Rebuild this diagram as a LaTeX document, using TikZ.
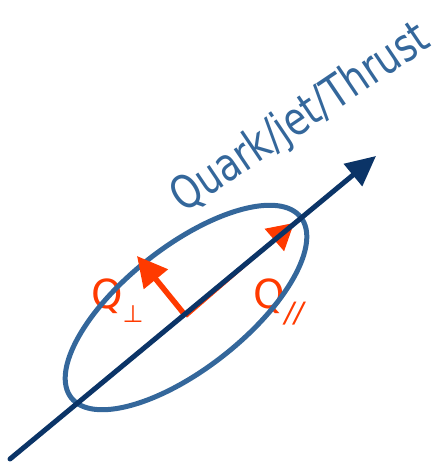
\documentclass[tikz,border=0pt]{standalone}
\usepackage{fontspec}
\setmainfont{DejaVu Sans}
\usepackage{tikz}
\usetikzlibrary{arrows.meta, positioning}

\definecolor{navy}{HTML}{0B3467}
\definecolor{steel}{HTML}{34679B}
\definecolor{redorange}{HTML}{FF3A00}

\begin{document}
\begin{tikzpicture}[
  x=1pt, y=1pt,
  axis/.style={draw=navy, line width=5pt, line cap=round, -{Triangle[length=30pt, width=28pt]}},
  vec/.style={draw=redorange, line width=5.5pt, -{Triangle[length=30pt, width=30pt]}},
  lbl/.style={inner sep=0pt, anchor=base west, text=redorange, font=\fontsize{40}{44}\selectfont},
  title/.style={inner sep=0pt, anchor=base west, text=steel, font=\fontsize{46}{50}\selectfont}
]
\useasboundingbox (0,0) rectangle (443,463);
\coordinate (start) at (10,4);
\coordinate (tip) at (376,307);
\coordinate (origin) at (185,148);
\coordinate (perp) at (137,207);
\coordinate (para) at (294,240);
% labels first, the ellipse runs over them
\node[title, rotate=34, xscale=0.8] (thrust) at (183,249) {Quark/jet/Thrust};
\node[lbl] (qperp) at (91,154) {Q\raisebox{-14pt}{\fontsize{24}{24}\selectfont ⊥}};
\node[lbl] (qpar) at (253,154) {Q\raisebox{-14pt}{\fontsize{28}{28}\selectfont\itshape //}};
\draw[steel, line width=5pt, rotate around={38.2:(186,155.5)}] (186,155.5) ellipse [x radius=146, y radius=61];
\draw[vec] (origin) -- (perp);
\draw[vec, line width=3pt, -{Triangle[length=26pt, width=29pt]}] ([shift={(1,-1.5)}]origin) -- (para);
\draw[axis] (start) -- (tip);
\end{tikzpicture}
\end{document}
